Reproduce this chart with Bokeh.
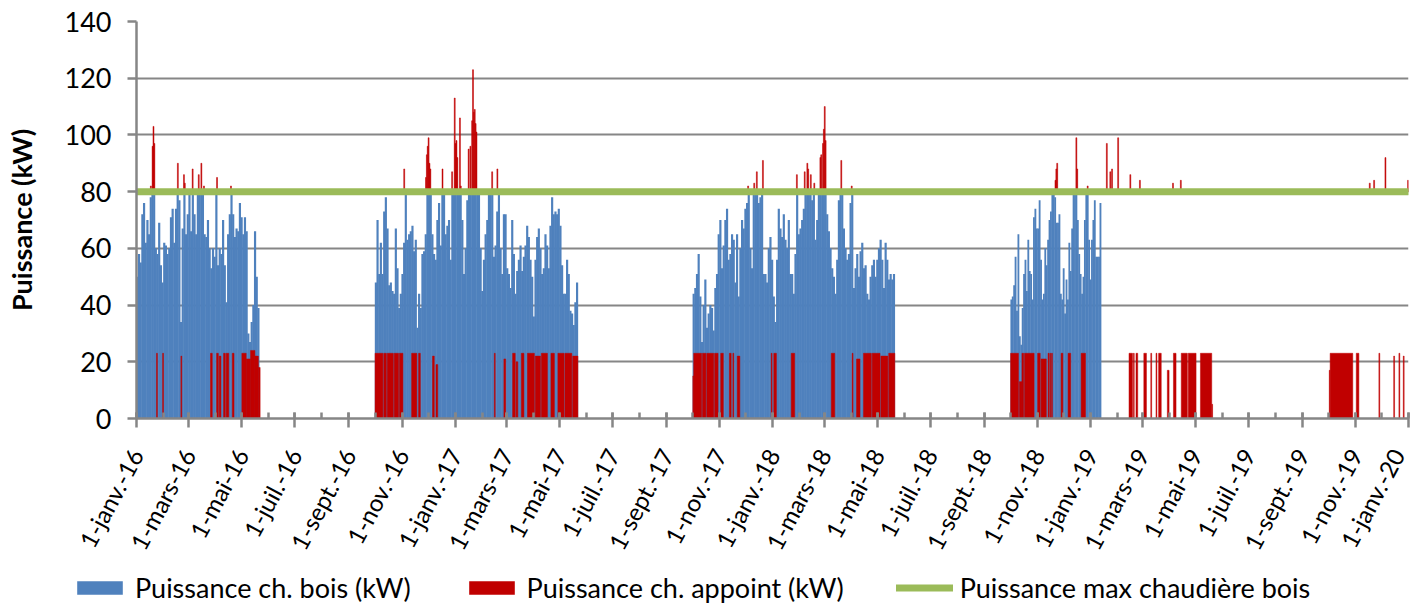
import pandas as pd
from bokeh.plotting import figure
from bokeh.layouts import column
from bokeh.models import Range1d, FixedTicker, Legend, LegendItem, ColumnDataSource
from bokeh.embed import file_html
from bokeh.resources import INLINE

# ---------------- données ----------------
etiquettes_x = ["1-janv.-16", "1-mars-16", "1-mai-16", "1-juil.-16", "1-sept.-16", "1-nov.-16",
                "1-janv.-17", "1-mars-17", "1-mai-17", "1-juil.-17", "1-sept.-17", "1-nov.-17",
                "1-janv.-18", "1-mars-18", "1-mai-18", "1-juil.-18", "1-sept.-18", "1-nov.-18",
                "1-janv.-19", "1-mars-19", "1-mai-19", "1-juil.-19", "1-sept.-19", "1-nov.-19",
                "1-janv.-20"]
dates_etiquettes_x = ["2016-01-01", "2016-03-01", "2016-05-01", "2016-07-01", "2016-09-01", "2016-11-01",
                      "2017-01-01", "2017-03-01", "2017-05-01", "2017-07-01", "2017-09-01", "2017-11-01",
                      "2018-01-01", "2018-03-01", "2018-05-01", "2018-07-01", "2018-09-01", "2018-11-01",
                      "2019-01-01", "2019-03-01", "2019-05-01", "2019-07-01", "2019-09-01", "2019-11-01",
                      "2020-01-01"]
graduations_y = [0, 20, 40, 60, 80, 100, 120, 140]
noms_series = ["Puissance ch. bois (kW)", "Puissance ch. appoint (kW)", "Puissance max chaudière bois"]

# Puissance chaudière bois (kW) par saison de chauffe
saisons_debut = ["2016-01-01", "2016-10-01", "2017-10-01", "2018-10-01"]
saisons_fin = ["2016-05-21", "2017-05-22", "2018-05-21", "2019-01-13"]
bois_saison_1 = [50, 58, 55, 72, 76, 62, 70, 65, 78, 80, 80, 60, 58, 69, 54, 48, 62, 61, 58, 60,
                 71, 74, 62, 74, 80, 77, 34, 67, 80, 65, 72, 79, 66, 80, 72, 65, 79, 80, 80, 80,
                 65, 64, 70, 60, 53, 60, 57, 80, 54, 60, 58, 70, 54, 41, 65, 72, 80, 72, 64, 67,
                 66, 76, 71, 65, 71, 66, 30, 27, 34, 40, 66, 50, 39]
bois_saison_2 = [48, 70, 51, 62, 51, 73, 78, 67, 47, 48, 45, 44, 67, 53, 39, 44, 51, 62, 80, 63,
                 65, 66, 68, 59, 63, 32, 44, 39, 58, 59, 65, 80, 80, 80, 65, 58, 56, 70, 76, 61,
                 80, 80, 65, 68, 70, 56, 80, 80, 80, 80, 80, 80, 70, 51, 60, 77, 80, 80, 80, 80,
                 80, 80, 80, 60, 45, 56, 65, 70, 80, 80, 80, 57, 61, 73, 80, 60, 51, 72, 72, 53,
                 51, 46, 70, 58, 44, 52, 56, 61, 52, 57, 61, 68, 64, 56, 50, 36, 56, 64, 67, 60,
                 51, 53, 65, 61, 53, 68, 78, 72, 73, 72, 74, 68, 54, 44, 44, 56, 51, 38, 37, 33,
                 41, 48]
bois_saison_3 = [44, 46, 51, 58, 43, 27, 40, 49, 32, 37, 40, 39, 31, 46, 51, 65, 70, 53, 61, 70,
                 74, 56, 58, 65, 63, 48, 65, 43, 60, 70, 67, 74, 76, 80, 60, 53, 80, 80, 80, 76,
                 78, 80, 51, 51, 48, 60, 64, 56, 43, 34, 56, 74, 67, 64, 72, 63, 60, 70, 51, 51,
                 44, 58, 80, 65, 67, 70, 74, 80, 80, 80, 80, 77, 80, 63, 70, 80, 80, 80, 80, 80,
                 72, 66, 60, 53, 50, 44, 56, 77, 80, 80, 67, 60, 56, 58, 76, 80, 46, 53, 58, 50,
                 59, 62, 53, 54, 44, 42, 50, 54, 56, 50, 56, 60, 63, 56, 46, 62, 56, 49, 51, 49,
                 51]
bois_saison_4 = [42, 43, 47, 57, 38, 65, 29, 26, 39, 51, 56, 45, 63, 52, 51, 42, 71, 74, 67, 67,
                 77, 56, 42, 44, 60, 54, 63, 70, 73, 80, 80, 78, 69, 69, 72, 44, 42, 53, 37, 49,
                 42, 62, 52, 67, 80, 80, 80, 70, 58, 51, 44, 50, 70, 80, 80, 63, 49, 63, 70, 77,
                 57, 57, 57, 76]

# Puissance chaudière d'appoint seule (kW) : périodes de fonctionnement
appoint_debut = ["2016-01-24", "2016-01-31", "2016-02-21", "2016-03-26", "2016-04-02", "2016-04-05",
                 "2016-04-10", "2016-04-13", "2016-04-20", "2016-05-01", "2016-05-06", "2016-05-11",
                 "2016-05-16", "2016-05-20",
                 "2016-10-01", "2016-10-11", "2016-10-15", "2016-10-23", "2016-10-29", "2016-11-12",
                 "2016-11-20", "2016-12-06", "2016-12-10", "2017-02-15", "2017-02-26", "2017-03-08",
                 "2017-03-12", "2017-03-18", "2017-03-25", "2017-04-03", "2017-04-10", "2017-04-21",
                 "2017-04-29", "2017-05-07", "2017-05-16",
                 "2017-10-01", "2017-10-02", "2017-10-12", "2017-10-17", "2017-10-26", "2017-11-02",
                 "2017-11-12", "2017-11-16", "2017-11-21", "2017-12-30", "2018-01-02", "2018-01-22",
                 "2018-03-09", "2018-04-02", "2018-04-07", "2018-04-15", "2018-04-25", "2018-05-05",
                 "2018-05-14",
                 "2018-10-01", "2018-10-11", "2018-10-14", "2018-10-17", "2018-11-01", "2018-11-05",
                 "2018-11-13", "2018-11-15", "2018-11-17", "2018-11-28", "2018-12-06", "2018-12-21",
                 "2019-02-14", "2019-02-19", "2019-02-22", "2019-03-03", "2019-03-11", "2019-03-17",
                 "2019-03-20", "2019-03-30", "2019-04-06", "2019-04-15", "2019-04-23", "2019-05-07",
                 "2019-05-20",
                 "2019-10-02", "2019-10-03", "2019-11-02", "2019-11-28", "2019-12-15", "2019-12-21",
                 "2019-12-26"]
appoint_fin = ["2016-01-25", "2016-02-01", "2016-02-22", "2016-03-28", "2016-04-04", "2016-04-07",
               "2016-04-12", "2016-04-16", "2016-04-22", "2016-05-06", "2016-05-11", "2016-05-16",
               "2016-05-20", "2016-05-22",
               "2016-10-10", "2016-10-14", "2016-10-22", "2016-10-28", "2016-11-02", "2016-11-18",
               "2016-11-22", "2016-12-08", "2016-12-12", "2017-02-16", "2017-02-28", "2017-03-11",
               "2017-03-14", "2017-03-21", "2017-04-02", "2017-04-09", "2017-04-17", "2017-04-25",
               "2017-05-06", "2017-05-15", "2017-05-22",
               "2017-10-02", "2017-10-11", "2017-10-16", "2017-10-25", "2017-10-30", "2017-11-05",
               "2017-11-14", "2017-11-17", "2017-11-24", "2017-12-31", "2018-01-05", "2018-01-26",
               "2018-03-13", "2018-04-03", "2018-04-11", "2018-04-24", "2018-05-04", "2018-05-13",
               "2018-05-21",
               "2018-10-10", "2018-10-14", "2018-10-16", "2018-10-28", "2018-11-04", "2018-11-11",
               "2018-11-14", "2018-11-16", "2018-11-18", "2018-11-30", "2018-12-09", "2018-12-26",
               "2019-02-18", "2019-02-20", "2019-02-24", "2019-03-06", "2019-03-12", "2019-03-18",
               "2019-03-23", "2019-04-01", "2019-04-09", "2019-04-22", "2019-05-02", "2019-05-20",
               "2019-05-21",
               "2019-10-03", "2019-10-29", "2019-11-05", "2019-11-29", "2019-12-16", "2019-12-22",
               "2019-12-27"]
appoint_kw = [23, 23, 22, 23, 23, 22, 23, 23, 23, 23, 21, 24, 22, 18,
              23, 23, 23, 23, 23, 23, 23, 22, 19, 23, 21, 23, 20, 23, 23, 22, 23, 23, 23, 23, 22,
              15, 23, 23, 23, 23, 23, 23, 23, 22, 23, 23, 23, 23, 23, 21, 23, 23, 22, 23,
              23, 13, 23, 23, 23, 21, 23, 23, 23, 23, 23, 23,
              23, 23, 23, 23, 23, 23, 23, 17, 23, 23, 23, 23, 5,
              17, 23, 23, 23, 22, 23, 22]

# Pointes au-delà de la puissance max bois (kW)
pointes_dates = ["2016-01-17", "2016-01-19", "2016-01-20", "2016-01-21", "2016-02-17", "2016-02-24",
                 "2016-02-25", "2016-03-05", "2016-03-12", "2016-03-15", "2016-03-18", "2016-04-02",
                 "2016-04-18",
                 "2016-11-03", "2016-11-28", "2016-11-29", "2016-11-30", "2016-12-01", "2016-12-02",
                 "2016-12-03", "2016-12-17", "2016-12-28", "2016-12-31", "2017-01-01", "2017-01-02",
                 "2017-01-03", "2017-01-06", "2017-01-07", "2017-01-16", "2017-01-18", "2017-01-20",
                 "2017-01-21", "2017-01-22", "2017-01-23", "2017-01-24", "2017-01-25", "2017-02-12",
                 "2017-02-18",
                 "2017-12-03", "2017-12-10", "2017-12-13", "2017-12-20", "2018-01-28", "2018-02-06",
                 "2018-02-09", "2018-02-10", "2018-02-13", "2018-02-17", "2018-02-24", "2018-02-25",
                 "2018-02-27", "2018-02-28", "2018-03-01", "2018-03-02", "2018-03-20", "2018-04-01",
                 "2018-11-21", "2018-11-22", "2018-11-23", "2018-12-15", "2018-12-16", "2018-12-28",
                 "2019-01-19", "2019-01-23", "2019-01-25", "2019-02-01", "2019-02-15", "2019-02-26",
                 "2019-04-05", "2019-04-14",
                 "2019-11-17", "2019-11-22", "2019-12-05", "2019-12-31"]
pointes_kw = [82, 96, 103, 97, 90, 86, 83, 88, 86, 90, 82, 85, 82,
              88, 85, 93, 96, 99, 90, 88, 88, 87, 113, 97, 98, 92, 106, 82, 95, 96, 105, 123, 108,
              109, 104, 101, 87, 88,
              82, 83, 87, 91, 86, 87, 90, 88, 86, 83, 92, 93, 97, 102, 110, 98, 91, 82,
              84, 88, 90, 99, 88, 82, 97, 87, 88, 99, 86, 84, 83, 84,
              83, 84, 92, 84]

puissance_max_kw = 80
periode = ["2016-01-01", "2020-01-01"]

# ---------------- couleurs / styles ----------------
BLEU = "#4F81BD"
ROUGE = "#C00000"
VERT = "#9BBB59"
GRIS = "#868686"
POLICE = "Lato"

# ---------------- construction ----------------
bx, btop, bw = [], [], []
for deb, fin, vals in zip(saisons_debut, saisons_fin,
                          [bois_saison_1, bois_saison_2, bois_saison_3, bois_saison_4]):
    d0, d1 = pd.Timestamp(deb), pd.Timestamp(fin)
    pas = (d1 - d0) / len(vals)
    for i, v in enumerate(vals):
        bx.append(d0 + pas * (i + 0.5))
        btop.append(v)
        bw.append(pas.total_seconds() * 1000 * 1.3)
src_bois = ColumnDataSource(dict(x=bx, top=btop, w=bw))

src_app = ColumnDataSource(dict(left=pd.to_datetime(appoint_debut), right=pd.to_datetime(appoint_fin),
                                top=appoint_kw, bottom=[0] * len(appoint_kw)))
src_pic = ColumnDataSource(dict(x=pd.to_datetime(pointes_dates) + pd.Timedelta(hours=12),
                                top=pointes_kw, bottom=[puissance_max_kw] * len(pointes_kw)))

t0, t1 = pd.Timestamp(periode[0]), pd.Timestamp(periode[1])
p = figure(width=1410, height=570, x_axis_type="datetime",
           x_range=Range1d(t0, t1), y_range=Range1d(graduations_y[0], graduations_y[-1]),
           output_backend="svg", toolbar_location=None, frame_align=False,
           min_border_left=136, min_border_right=2, min_border_top=21, min_border_bottom=152)
p.outline_line_color = None
p.background_fill_color = "white"
p.border_fill_color = "white"

p.vbar(x="x", top="top", width="w", bottom=0, source=src_bois, fill_color=BLEU, line_color=None)
p.quad(left="left", right="right", bottom="bottom", top="top", source=src_app,
       fill_color=ROUGE, line_color=ROUGE, line_width=0.5)
p.vbar(x="x", top="top", bottom="bottom", width=1.1 * 86400000, source=src_pic,
       fill_color=ROUGE, line_color=ROUGE, line_width=0.5)
p.line(x=[t0, t1], y=[puissance_max_kw, puissance_max_kw], line_color=VERT,
       line_width=7, line_cap="round")

# axes
majeures = [pd.Timestamp(d).value / 1e6 for d in dates_etiquettes_x]
mineures = [d.value / 1e6 for d in pd.date_range(periode[0], periode[1], freq="MS")]
p.xaxis.ticker = FixedTicker(ticks=majeures, minor_ticks=mineures)
p.xaxis.major_label_overrides = {m: e for m, e in zip(majeures, etiquettes_x)}
p.xaxis.major_label_orientation = 1.08
p.yaxis.ticker = FixedTicker(ticks=graduations_y)

for ax in (p.xaxis[0], p.yaxis[0]):
    ax.axis_line_color = GRIS
    ax.axis_line_width = 2.5
    ax.major_tick_line_color = GRIS
    ax.major_tick_line_width = 2.5
    ax.minor_tick_line_color = GRIS
    ax.minor_tick_line_width = 2.5
    ax.major_label_text_font = POLICE
    ax.major_label_text_color = "#000000"
p.xaxis.major_label_text_font_size = "24px"
p.yaxis.major_label_text_font_size = "27px"
p.xaxis.major_tick_in = 6
p.xaxis.major_tick_out = 9
p.xaxis.minor_tick_in = 6
p.xaxis.minor_tick_out = 0
p.xaxis.major_label_standoff = 23
p.yaxis.major_tick_in = 0
p.yaxis.major_tick_out = 9
p.yaxis.minor_tick_line_color = None
p.yaxis.major_label_standoff = 16
p.yaxis.axis_label = "Puissance (kW)"
p.yaxis.axis_label_text_font = POLICE
p.yaxis.axis_label_text_font_size = "27px"
p.yaxis.axis_label_text_font_style = "bold"
p.yaxis.axis_label_text_color = "#000000"
p.yaxis.axis_label_standoff = 24

p.xgrid.grid_line_color = None
p.ygrid.grid_line_color = GRIS
p.ygrid.grid_line_width = 2

# ---------------- légende (bandeau sous le graphique) ----------------
pl = figure(width=1410, height=35, x_range=Range1d(0, 1), y_range=Range1d(0, 1),
            output_backend="svg", toolbar_location=None, frame_align=False,
            x_axis_location=None, y_axis_location=None,
            min_border=0, min_border_left=0, min_border_right=0, min_border_top=0, min_border_bottom=0)
pl.outline_line_color = None
pl.xgrid.grid_line_color = None
pl.ygrid.grid_line_color = None
# glyphes témoins hors champ, servant uniquement à dessiner les symboles de la légende
l_bois = pl.vbar(x=[-5], top=[-5], width=1, fill_color=BLEU, line_color=None)
l_app = pl.vbar(x=[-5], top=[-5], width=1, fill_color=ROUGE, line_color=None)
l_max = pl.line(x=[-6, -5], y=[-5, -5], line_color=VERT, line_width=7, line_cap="round")
legend = Legend(items=[LegendItem(label=noms_series[0], renderers=[l_bois]),
                       LegendItem(label=noms_series[1], renderers=[l_app]),
                       LegendItem(label=noms_series[2], renderers=[l_max])],
                orientation="horizontal", location=(71, 1),
                glyph_width=57, glyph_height=17, label_standoff=7, spacing=52,
                padding=0, margin=0, border_line_color=None, background_fill_alpha=0,
                label_text_font=POLICE, label_text_font_size="27px", label_text_color="#000000")
pl.add_layout(legend, "center")

open("out.html", "w").write(file_html(column(p, pl, spacing=0), INLINE))
